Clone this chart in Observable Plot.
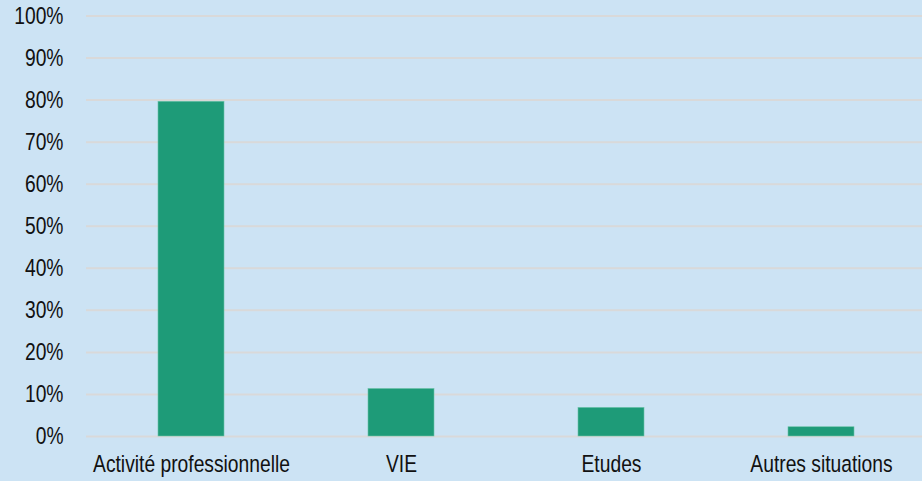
<!DOCTYPE html>
<html>
<head>
<meta charset="utf-8">
<script src="https://cdn.jsdelivr.net/npm/d3@7"></script>
<script src="https://cdn.jsdelivr.net/npm/@observablehq/plot@0.6"></script>
<style>
  html, body { margin: 0; padding: 0; background: #cce3f4; }
  #chart svg { display: block; }
</style>
</head>
<body>
<div id="chart"></div>
<script>
const categories = ["Activité professionnelle", "VIE", "Etudes", "Autres situations"];
const shares = [79.6, 11.3, 6.8, 2.2];
const yTicks = [0, 10, 20, 30, 40, 50, 60, 70, 80, 90, 100];

const data = categories.map((c, i) => ({category: c, value: shares[i]}));

const chart = Plot.plot({
  width: 922,
  height: 481,
  marginLeft: 86,
  marginRight: 0,
  marginTop: 15.5,
  marginBottom: 45,
  style: {
    background: "#cce3f4",
    fontFamily: "'Liberation Sans', Arial, sans-serif",
    fontSize: "23.5px",
    color: "#111"
  },
  x: {
    domain: categories,
    range: [86, 926],
    paddingInner: 0.686,
    paddingOuter: 0.343,
    label: null
  },
  y: {
    domain: [0, 100],
    label: null
  },
  marks: [
    Plot.ruleY(yTicks, {stroke: "#d9d9d9", strokeWidth: 2}),
    Plot.barY(data, {x: "category", y: "value", fill: "#1e9b78", stroke: "#6cc2a8", strokeWidth: 0.6}),
    Plot.axisY({ticks: yTicks, tickSize: 0, tickPadding: 23, tickFormat: d => d + "%", fill: "#111"}),
    Plot.axisX({tickSize: 0, tickPadding: 19, fill: "#111"})
  ]
});

// Condense the text horizontally (narrow typeface look), scaling around each anchor
chart.querySelectorAll("text").forEach(t => {
  const xa = t.getAttribute("x");
  const x = xa && !/em/.test(xa) ? parseFloat(xa) : 0;
  if (xa && !/em/.test(xa)) t.removeAttribute("x");
  const tr = t.getAttribute("transform") || "";
  t.setAttribute("transform", `${tr} translate(${x},0) scale(0.82,1)`);
});

document.getElementById("chart").appendChild(chart);
</script>
</body>
</html>
